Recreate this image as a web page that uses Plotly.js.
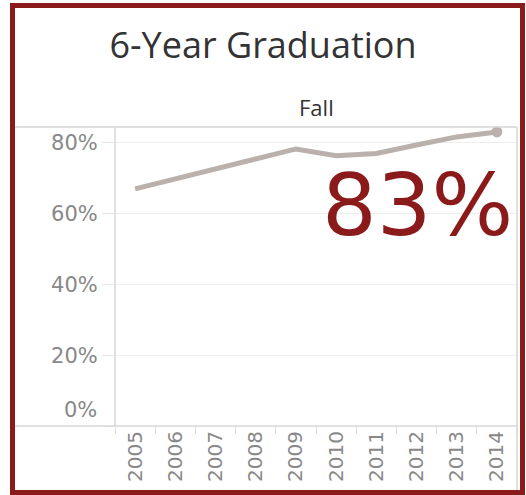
<!DOCTYPE html>
<html>
<head>
<meta charset="utf-8">
<script src="https://cdn.plot.ly/plotly-3.0.1.min.js"></script>
<style>html,body{margin:0;padding:0;background:#fff;}#chart{width:526px;height:495px;}</style>
</head>
<body>
<div id="chart"></div>
<script>
// ---- data ----
const years = ['2005','2006','2007','2008','2009','2010','2011','2012','2013','2014'];
const gradRate = [67.0, 69.8, 72.6, 75.4, 78.3, 76.4, 77.0, 79.4, 81.7, 83.1];
const yTickVals = [0, 20, 40, 60, 80];
const yTickText = ['', '20%', '40%', '60%', '80%'];
const zeroLabel = '0%';
const titleText = '6-Year Graduation';
const headerText = 'Fall';

// ---- layout geometry (pixels) ----
const W = 526, H = 495, L = 115, R = 517, T = 127, B = 426;
const px = p => (p - L) / (R - L);
const py = p => (B - p) / (B - T);
const lastIdx = gradRate.length - 1;

const red = '#8b1a1a', frame = '#d6d6d6', lineCol = '#bab0ac', tickCol = '#888888';

const traces = [
  {x: years, y: gradRate, type: 'scatter', mode: 'lines',
   line: {color: lineCol, width: 5}, hoverinfo: 'x+y', showlegend: false},
  {x: [years[lastIdx]], y: [gradRate[lastIdx]], type: 'scatter', mode: 'markers',
   marker: {color: lineCol, size: 11}, showlegend: false, cliponaxis: false}
];

const layout = {
  width: W, height: H,
  margin: {l: L, r: W - R, t: T, b: H - B, pad: 0},
  paper_bgcolor: '#ffffff', plot_bgcolor: '#ffffff',
  showlegend: false,
  title: {text: titleText, font: {family: 'Open Sans', size: 36, color: '#333333'},
          x: 263 / W, xref: 'container', xanchor: 'center',
          y: 1 - 45 / H, yref: 'container', yanchor: 'middle'},
  xaxis: {type: 'category', range: [-0.5, years.length - 0.5], fixedrange: true,
          tickangle: -90, ticks: 'outside', tickson: 'boundaries', ticklen: 7, tickcolor: '#dcdcdc',
          showgrid: false, showline: false, zeroline: false,
          tickfont: {family: 'DejaVu Sans', size: 20, color: tickCol}},
  yaxis: {range: [0, 84.5], fixedrange: true, tickvals: yTickVals, ticktext: yTickText,
          ticks: 'outside', ticklen: 12, tickcolor: '#e6e6e6',
          showgrid: true, gridcolor: '#eeeeee', gridwidth: 1,
          showline: false, zeroline: false,
          tickfont: {family: 'DejaVu Sans', size: 21, color: tickCol}},
  shapes: [
    {type: 'line', xref: 'paper', yref: 'paper', x0: px(15), x1: px(R), y0: py(T), y1: py(T), line: {color: frame, width: 1.5}},
    {type: 'line', xref: 'paper', yref: 'paper', x0: px(15), x1: px(R), y0: py(B), y1: py(B), line: {color: frame, width: 1.5}},
    {type: 'line', xref: 'paper', yref: 'paper', x0: px(L), x1: px(L), y0: py(T), y1: py(B), line: {color: frame, width: 1.5}},
    {type: 'line', xref: 'paper', yref: 'paper', x0: px(R), x1: px(R), y0: py(T), y1: py(490), line: {color: frame, width: 1.5}},
    {type: 'rect', xref: 'paper', yref: 'paper', x0: px(12.5), x1: px(522.5), y0: py(492.5), y1: py(5.5),
     line: {color: red, width: 5}, fillcolor: 'rgba(0,0,0,0)', layer: 'above'}
  ],
  annotations: [
    {text: headerText, xref: 'paper', yref: 'paper', x: 0.5, y: py(107), xanchor: 'center', yanchor: 'middle',
     showarrow: false, font: {family: 'Open Sans', size: 22, color: '#333333'}},
    {text: Math.round(gradRate[lastIdx]) + '%', xref: 'paper', yref: 'paper', x: px(515), y: py(205),
     xanchor: 'right', yanchor: 'middle', showarrow: false,
     font: {family: 'DejaVu Sans', size: 86, color: red}},
    {text: zeroLabel, xref: 'paper', yref: 'y', x: px(99), y: yTickVals[0], yshift: 16,
     xanchor: 'right', yanchor: 'middle', showarrow: false,
     font: {family: 'DejaVu Sans', size: 21, color: tickCol}}
  ]
};

Plotly.newPlot('chart', traces, layout, {displayModeBar: false, staticPlot: true});
</script>
</body>
</html>
